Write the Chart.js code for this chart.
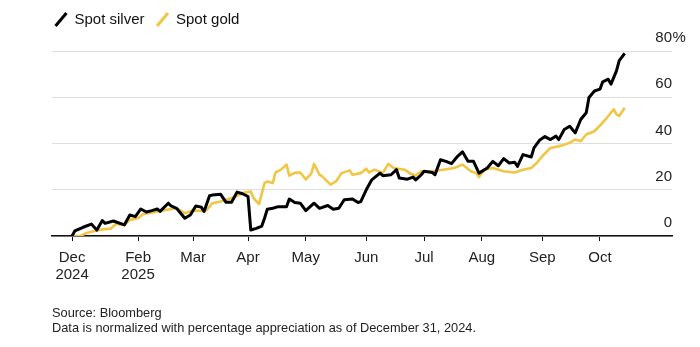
<!DOCTYPE html>
<html><head><meta charset="utf-8">
<script src="https://cdn.jsdelivr.net/npm/chart.js@4.4.1/dist/chart.umd.min.js"></script>
<style>html,body{margin:0;padding:0;background:#fff}#wrap{width:700px;height:347px;position:relative}</style>
</head><body><div id="wrap"><canvas id="c"></canvas></div>
<script>
// trading-day index since Dec 31, 2024
const silverDays = [0,1,4,7,9,11,12,15,19,21,23,25,27,29,31,32,35,36,38,41,43,45,47,48,50,51,54,56,58,60,62,64,65,67,69,70,71,73,75,78,79,81,83,85,88,90,93,95,97,99,102,104,105,107,109,112,113,116,118,119,122,124,125,127,128,131,132,134,136,138,140,142,144,146,148,151,153,155,157,159,161,162,164,167,168,170,172,174,176,177,179,181,183,185,187,188,190,192,193,195,196,198,199,201];
const silverValues = [0,2.2,3.8,5.2,2.6,6.7,5.5,6.5,4.8,9.1,8.4,11.7,10.4,11,11.7,10.7,14.2,13,12,7.7,9.1,13,12.5,10.6,17.4,17.7,18.1,14.6,14.6,19,18.3,17.1,2.6,3.3,4.3,7.7,11.6,12,12.7,12.7,16,14.5,14.2,11,14.2,12,13.2,11.6,12,15.7,16,14.5,14.9,20,24.3,27.2,26.1,26.5,28.7,25.1,24.6,25.5,24.3,26.5,28,27.5,26.5,33,32.3,31.3,34.2,36.4,32.3,32.3,27.2,29.4,32.3,30.4,33.5,31.6,31.9,30.1,35.2,34.2,38.1,41.4,43,41.7,43.2,41.7,46.1,47.5,44.6,50.4,53.3,59.9,62.7,63.5,66.7,67.8,65.7,71.4,75.8,79];
const goldDays = [0,3,5,8,11,14,16,19,21,24,26,30,32,34,38,41,44,47,49,51,54,56,59,62,65,66,68,70,71,73,74,76,78,79,81,83,85,87,88,90,91,94,96,98,101,102,105,107,108,110,113,115,117,121,123,125,127,131,135,139,142,145,147,148,150,153,157,161,164,167,169,171,174,178,181,183,185,187,190,192,194,197,198,199,201];
const goldValues = [0,0,1.2,2.2,2.9,3.2,5.2,4.8,7,7.7,9.6,10.3,10.9,11.3,12,9.9,11,10.9,11.3,14.2,14.9,15.7,16.8,18.6,19.3,16.4,13.8,22.9,23.6,22.9,27.5,28.7,30.9,26.1,27.3,27.5,24.5,27,31.2,26.5,25.8,22.2,23.6,27.2,28.4,26.5,27.2,29.1,27.5,28.7,27.2,31.2,29.4,28.7,27,26.2,28,28,28.7,29.4,30.9,28,27.2,25.5,28.7,29.4,28,27.5,28.7,29.4,31.6,34.5,38.1,39.1,40.3,41.7,41,43.9,45.3,47.8,50.4,54.8,52.6,51.9,55.5];
const monthTickDays = [0,24,44,64,85,107,128,149,171,192];
const monthTickLabels = [['Dec','2024'],['Feb','2025'],'Mar','Apr','May','Jun','Jul','Aug','Sep','Oct'];
const yTickValues = [0,20,40,60,80];
const seriesNames = ['Spot silver','Spot gold'];
const seriesColors = ['#000000','#f2c545'];
const footerLines = ['Source: Bloomberg','Data is normalized with percentage appreciation as of December 31, 2024.'];

const FONT = '"Liberation Sans", Arial, Helvetica, sans-serif';
const toXY = (xs, ys) => xs.map((x, i) => ({x: x, y: ys[i]}));

const legendSpace = {
  id: 'legendSpace',
  beforeInit(chart) {
    const orig = chart.legend.fit;
    chart.legend.fit = function() { orig.call(this); this.height += 14; };
  },
  afterLayout(chart) {
    chart.legend.left -= 9;
    chart.legend.right -= 9;
  }
};
const percentSign = {
  id: 'percentSign',
  afterDraw(chart) {
    const s = chart.scales.y, ctx = chart.ctx;
    ctx.save();
    ctx.font = '15px ' + FONT;
    ctx.fillStyle = '#222';
    ctx.textAlign = 'left';
    ctx.textBaseline = 'middle';
    ctx.fillText('%', chart.chartArea.right + 0.5, s.getPixelForValue(80) - 13);
    ctx.restore();
  }
};

new Chart(document.getElementById('c'), {
  type: 'line',
  data: {
    datasets: [
      {label: seriesNames[0], data: toXY(silverDays, silverValues), borderColor: seriesColors[0], backgroundColor: seriesColors[0], borderWidth: 3, pointRadius: 0, tension: 0, borderJoinStyle: 'round'},
      {label: seriesNames[1], data: toXY(goldDays, goldValues), borderColor: seriesColors[1], backgroundColor: seriesColors[1], borderWidth: 2.6, pointRadius: 0, tension: 0, borderJoinStyle: 'round'}
    ]
  },
  options: {
    responsive: true, maintainAspectRatio: false, animation: false, devicePixelRatio: 1,
    layout: {padding: {left: 52, right: 28, top: 0, bottom: 0}},
    plugins: {
      tooltip: {enabled: false},
      legend: {
        position: 'top', align: 'start',
        labels: {
          usePointStyle: true, boxWidth: 12, boxHeight: 12, padding: 12,
          font: {family: FONT, size: 15}, color: '#111',
          generateLabels(chart) {
            return chart.data.datasets.map((d, i) => ({
              text: d.label, fillStyle: d.borderColor, strokeStyle: d.borderColor,
              lineWidth: 3, pointStyle: 'line', rotation: -50, hidden: false, datasetIndex: i, fontColor: '#111'
            }));
          }
        }
      },
      title: {
        display: true, position: 'bottom', align: 'start', text: footerLines,
        color: '#222', font: {family: FONT, size: 12.8, weight: 'normal', lineHeight: 1.15},
        padding: {top: 15, bottom: 11}
      }
    },
    scales: {
      x: {
        type: 'linear', min: -7.3, max: 218.2,
        afterBuildTicks(scale) { scale.ticks = monthTickDays.map(v => ({value: v})); },
        ticks: {
          autoSkip: false, maxRotation: 0, padding: 8, color: '#222',
          font: {family: FONT, size: 15, lineHeight: 1.15},
          callback(v) { const i = monthTickDays.indexOf(v); return i >= 0 ? monthTickLabels[i] : ''; }
        },
        grid: {display: true, drawOnChartArea: false, drawTicks: true, tickLength: 5, color: '#111', lineWidth: 1},
        border: {display: true, color: '#111', width: 1.5}
      },
      y: {
        position: 'right', min: 0, max: 80,
        afterBuildTicks(scale) { scale.ticks = yTickValues.map(v => ({value: v})); },
        ticks: {
          mirror: true, padding: 0, labelOffset: -13, color: '#222',
          font: {family: FONT, size: 15}
        },
        grid: {color: '#dddddd', lineWidth: 1, drawTicks: false},
        border: {display: false}
      }
    }
  },
  plugins: [legendSpace, percentSign]
});
</script></body></html>
